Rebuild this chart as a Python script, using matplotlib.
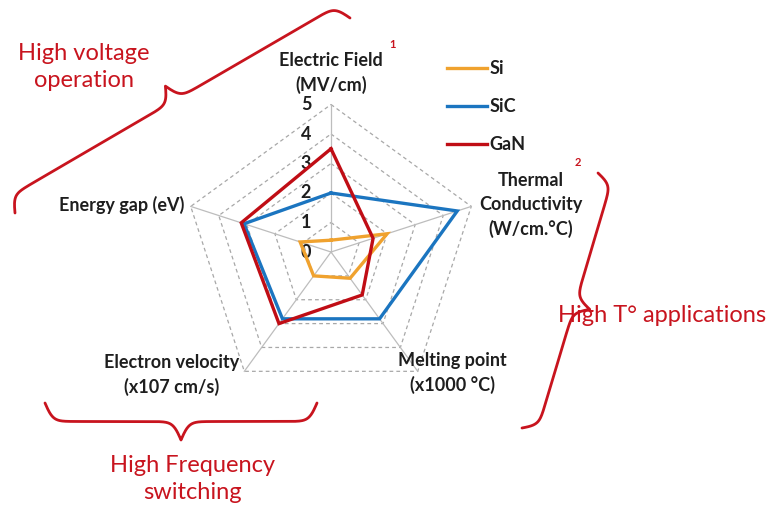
import numpy as np
import matplotlib.pyplot as plt

plt.rcParams['font.family'] = ['Lato', 'DejaVu Sans']

# radar axes (clockwise from top)
axis_names = ['Electric Field\n(MV/cm)', 'Thermal\nConductivity\n(W/cm.°C)',
              'Melting point\n(x1000 °C)', 'Electron velocity\n(x107 cm/s)', 'Energy gap (eV)']
levels = [0, 1, 2, 3, 4, 5]

series_names = ['Si', 'SiC', 'GaN']
si = [0.4, 2.0, 1.1, 1.0, 1.1]
sic = [2.0, 4.5, 2.8, 2.8, 3.1]
gan = [3.5, 1.5, 1.8, 3.0, 3.2]
series_colors = ['#F0A22E', '#1B75C0', '#C00D15']

red = '#C8141E'
dark = '#1E1E1E'

fig = plt.figure(figsize=(7.71, 5.08), dpi=100)
ax = fig.add_axes([0, 0, 1, 1])
ax.set_xlim(0, 771)
ax.set_ylim(508, 0)
ax.axis('off')

# radar placement in pixel space
cx, cy, unit = 331, 252, 29.5
angles = np.deg2rad(90 - 72 * np.arange(5))


def to_xy(vals, close=True):
    vals = np.asarray(vals, dtype=float)
    x = cx + unit * vals * np.cos(angles)
    y = cy - unit * vals * np.sin(angles)
    if close:
        x, y = np.append(x, x[0]), np.append(y, y[0])
    return x, y


# grid pentagons and spokes
for lv in levels[1:]:
    gx, gy = to_xy([lv] * 5)
    ax.plot(gx, gy, color='#A8A8A8', lw=0.9, ls=(0, (3, 2.5)), zorder=1)
ox, oy = to_xy([levels[-1]] * 5, close=False)
for x, y in zip(ox, oy):
    ax.plot([cx, x], [cy, y], color='#BDBDBD', lw=0.9, zorder=1)

# tick labels
for lv in levels:
    ax.text(cx - 25, cy - unit * lv, str(lv), ha='center', va='center',
            fontsize=13, fontweight='bold', color=dark)

# series
for vals, name, col in zip([si, sic, gan], series_names, series_colors):
    px, py = to_xy(vals)
    ax.plot(px, py, color=col, lw=2.4, label=name, zorder=3, solid_joinstyle='miter')

leg = ax.legend(loc='upper left', bbox_to_anchor=(447 / 771, 1 - 60 / 508), frameon=False,
                handlelength=2.2, handletextpad=0.15, labelspacing=1.17,
                borderpad=0, borderaxespad=0, prop={'weight': 'bold', 'size': 13})
for t in leg.get_texts():
    t.set_color(dark)

# axis labels
lab_kw = dict(fontsize=13, fontweight='bold', color=dark, linespacing=1.45)
ax.text(331, 73, axis_names[0], ha='center', va='center', **lab_kw)
ax.text(531, 205, axis_names[1], ha='center', va='center', **lab_kw)
ax.text(452, 373, axis_names[2], ha='center', va='center', **lab_kw)
ax.text(172, 375, axis_names[3], ha='center', va='center', **lab_kw)
ax.text(184, 205, axis_names[4], ha='right', va='center', **lab_kw)
ax.text(393, 45, '1', ha='center', va='center', fontsize=8, fontweight='bold', color=red)
ax.text(578, 163, '2', ha='center', va='center', fontsize=8, fontweight='bold', color=red)


def brace(p0, p1, w, beta=0.25, n=300):
    p0, p1 = np.array(p0, float), np.array(p1, float)
    d = p1 - p0
    L = np.hypot(*d)
    u = d / L
    nv = np.array([-u[1], u[0]])
    s = np.linspace(0, L / 2, n)
    h = 1 / (1 + np.exp(-beta * s)) + 1 / (1 + np.exp(-beta * (s - L / 2))) - 0.5
    s = np.concatenate([s, L - s[::-1]])
    h = np.concatenate([h, h[::-1]])
    pts = p0[None, :] + s[:, None] * u[None, :] + (h * w)[:, None] * nv[None, :]
    ax.plot(pts[:, 0], pts[:, 1], color=red, lw=2.0, solid_capstyle='round', zorder=2)


brace((15, 213), (350, 18), -34)
brace((598, 173), (522, 428), -31)
brace((45, 403), (317, 403), 37)

red_kw = dict(fontsize=17, color=red, ha='center', va='center', linespacing=1.35)
ax.text(84, 67, 'High voltage\noperation', **red_kw)
ax.text(662, 315, 'High T° applications', **red_kw)
ax.text(192, 479, 'High Frequency\nswitching', **red_kw)

fig.savefig('out.png', dpi=100)
